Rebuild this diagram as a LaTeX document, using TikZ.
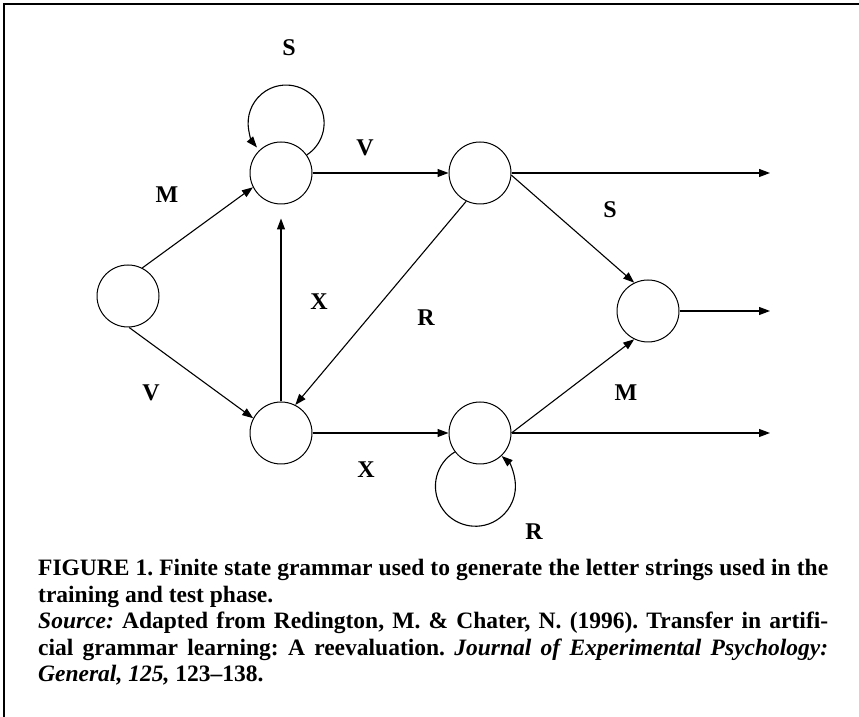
\documentclass[tikz,border=0pt]{standalone}
\usepackage{fontspec}
\setmainfont{Liberation Serif}
\usetikzlibrary{arrows.meta}
\frenchspacing

\begin{document}
\begin{tikzpicture}[x=1pt, y=1pt, >={Triangle[length=11pt,width=8pt]},
    gstate/.style={circle, draw, line width=1pt, minimum size=62pt, inner sep=0pt},
    lbl/.style={font=\fontsize{24}{26}\selectfont\bfseries},
    trans/.style={->, line width=1.1pt}]
        \useasboundingbox (0,0) rectangle (859,717);

        % Frame
        \draw[line width=2pt] (4,0) -- (4,713) -- (859,713);

        % States
        \node[gstate] (s0) at (128,421) {};
        \node[gstate] (s1) at (281,544) {};
        \node[gstate] (s2) at (480,544) {};
        \node[gstate] (s3) at (648,406) {};
        \node[gstate] (s4) at (281,284) {};
        \node[gstate] (s5) at (480,284) {};

        % Exits
        \coordinate (out2) at (770,544);
        \coordinate (out3) at (770,406);
        \coordinate (out5) at (770,284);

        % Transitions
        \draw[trans] (s0.63) -- (s1.207);
        \draw[trans] (s0.-88) -- (s4.152);
        \draw[trans] (s1) -- (s2);
        \draw[trans, shorten >=14pt] (s4) -- (s1);
        \draw[trans] (s2.244) -- (s4.63);
        \draw[trans] (s2.-4) -- (s3.116);
        \draw[trans] (s4) -- (s5);
        \draw[trans] (s5.east) -- (s3.244);
        \draw[trans] (s2) -- (out2);
        \draw[trans] (s3) -- (out3);
        \draw[trans] (s5) -- (out5);

        % Loops
        \draw[trans] (s1.35) arc[start angle=-57, end angle=220, radius=38];
        \draw[trans] (s5.217) arc[start angle=121, end angle=409, radius=40];

        % Labels
        \node[lbl] (lS1) at (289,669) {S};
        \node[lbl] (lM1) at (167,522) {M};
        \node[lbl] (lV1) at (365,569) {V};
        \node[lbl] (lX1) at (319,415) {X};
        \node[lbl] (lR1) at (426,399) {R};
        \node[lbl] (lS2) at (610,507) {S};
        \node[lbl] (lV2) at (151,324) {V};
        \node[lbl] (lM2) at (626,324) {M};
        \node[lbl] (lX2) at (366,247) {X};
        \node[lbl] (lR2) at (534,185) {R};

        % Caption
        \node[anchor=north west, inner sep=0pt, text width=790pt, align=justify,
              font=\fontsize{23.5}{26.5}\selectfont\bfseries] (cap) at (38,158)
            {FIGURE 1. Finite state grammar used to generate the letter strings used in the\linebreak
             training and test phase.\par
             \textit{Source:} Adapted from Redington, M. \& Chater, N. (1996). Transfer in artifi-\linebreak
             cial grammar learning: A reevaluation. \textit{Journal of Experimental Psychology:}\linebreak
             \textit{General, 125,} 123--138.};
    \end{tikzpicture}
\end{document}
